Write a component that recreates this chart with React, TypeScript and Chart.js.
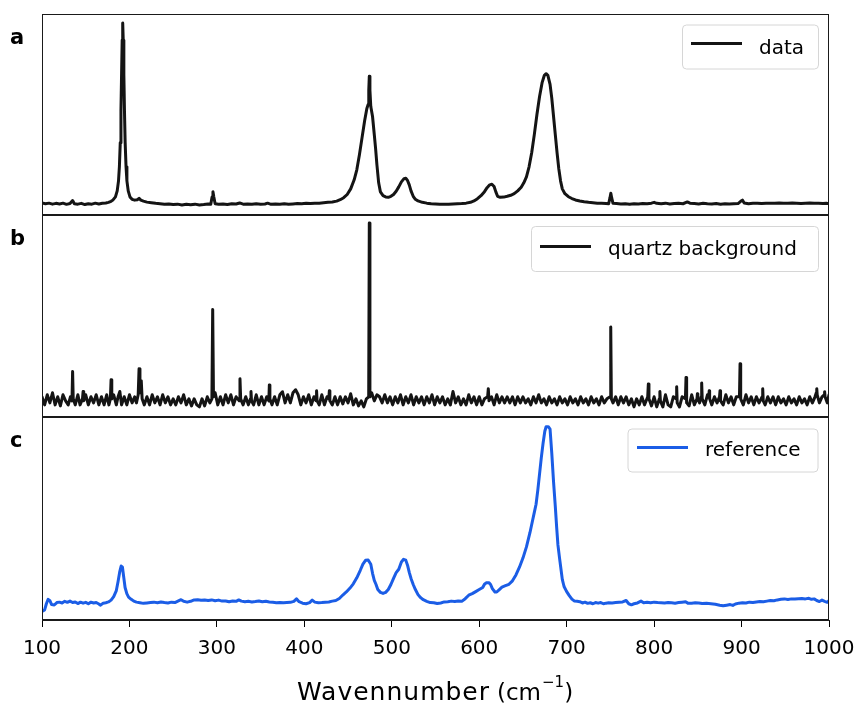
import React, { useEffect, useRef } from 'react';
import { Chart, registerables } from 'chart.js';

Chart.register(...registerables);

const X_MIN = 100;
const X_MAX = 1000;
const xTickValues = [100, 200, 300, 400, 500, 600, 700, 800, 900, 1000];
const panelLetters = ['a', 'b', 'c'];
const legendLabels = ['data', 'quartz background', 'reference'];
const xTitleMain = 'Wavennumber';
const xTitleUnit = '(cm';
const xTitleExp = '−1';
const xTitleClose = ')';

// [wavenumber, intensity (arb., 0-100 per panel)]
const dataSpectrum: [number, number][] = [
  [100, 6.0], [104, 5.6], [108, 5.9], [112, 5.4], [116, 5.8], [120, 5.5], [124, 5.9], [128, 5.3], [132, 5.7], [135, 7.2], [137, 5.6],
  [141, 5.4], [145, 5.8], [149, 5.2], [153, 5.6], [157, 5.4], [161, 5.9], [165, 5.5], [169, 5.8], [173, 6.0], [176, 6.3], [179, 6.8],
  [181, 7.4], [184, 9], [186, 12], [187.5, 17], [188.5, 24], [189.5, 36], [190.3, 52], [191, 70], [191.7, 87], [192.3, 95.5],
  [192.9, 87], [193.6, 70], [194.3, 52], [195.1, 36], [196.1, 24], [197.1, 17], [198.6, 12], [200.6, 9], [203, 7.8], [206, 7.4],
  [209, 7.6], [211, 8.3], [213, 7.4], [216, 6.9], [220, 6.4], [225, 6.1], [230, 5.8], [235, 5.6], [240, 5.3], [245, 5.5], [250, 5.2],
  [255, 5.4], [260, 5.0], [265, 5.3], [270, 5.1], [275, 5.4], [280, 5.0], [285, 5.2], [290, 5.5], [293, 5.3], [294.5, 9], [295.5, 11.6],
  [296.5, 9], [298, 5.6], [302, 5.4], [307, 5.5], [312, 5.2], [317, 5.6], [322, 5.5], [326, 6.0], [330, 5.4], [335, 5.5], [340, 5.3],
  [345, 5.6], [350, 5.4], [355, 5.5], [358, 5.9], [362, 5.3], [367, 5.5], [372, 5.4], [377, 5.6], [382, 5.3], [387, 5.5], [392, 5.7],
  [397, 5.6], [402, 5.8], [407, 5.7], [412, 5.9], [417, 5.9], [422, 6.1], [427, 6.3], [432, 6.5], [437, 6.9], [441, 7.6], [445, 8.6],
  [449, 10.2], [453, 13], [457, 17.5], [460, 22.5], [463, 30], [466, 38.5], [469, 47], [471.5, 53], [473, 55], [473.7, 62],
  [474.3, 69], [475, 62], [476, 54], [478, 49], [480, 40], [481.5, 33], [483, 25], [485, 16], [487, 11.5], [490, 9.6], [493, 9.0],
  [496, 8.8], [499, 9.3], [502, 10.2], [505, 11.8], [508, 14], [511, 16.5], [514, 18.1], [516, 18.3], [518, 17.2], [520, 15],
  [522, 12], [524.5, 9.3], [527, 7.8], [530, 7.0], [535, 6.3], [540, 5.9], [545, 5.6], [550, 5.5], [555, 5.3], [560, 5.4], [565, 5.3],
  [570, 5.5], [575, 5.6], [580, 5.7], [585, 5.9], [590, 6.3], [594, 7.0], [598, 8.1], [602, 9.6], [606, 11.6], [609, 13.6],
  [612, 15.0], [614.5, 15.3], [617, 14.2], [619, 11.5], [621, 9.3], [624, 8.8], [628, 8.9], [632, 9.3], [636, 9.8], [640, 10.6],
  [644, 12], [648, 13.8], [651, 16], [654, 19], [657, 24], [660, 31], [663, 40], [666, 50], [669, 59], [672, 66], [674.5, 69.5],
  [676.5, 70.3], [678.5, 69.5], [681, 65], [683, 58], [685, 49], [687, 40], [689, 31], [691, 23], [693, 17], [695, 13], [698, 10.6],
  [702, 9.1], [706, 8.2], [710, 7.5], [715, 7.0], [720, 6.6], [725, 6.3], [730, 6.1], [735, 5.9], [740, 5.8], [745, 5.7], [748, 5.6],
  [749.5, 8.5], [750.5, 10.8], [751.5, 8.5], [753, 5.8], [757, 5.7], [762, 5.5], [767, 5.6], [772, 5.4], [777, 5.6], [782, 5.5],
  [787, 5.7], [792, 5.6], [797, 5.9], [800, 6.3], [803, 5.8], [808, 5.6], [813, 5.9], [818, 5.5], [823, 5.7], [828, 5.8], [833, 5.6],
  [838, 6.5], [841, 5.9], [846, 5.7], [851, 5.5], [856, 5.8], [861, 5.6], [866, 5.5], [871, 5.7], [876, 5.4], [881, 5.6], [886, 5.5],
  [891, 5.6], [896, 5.7], [899, 6.8], [901, 7.4], [903, 6.0], [908, 5.6], [913, 5.8], [918, 5.9], [923, 5.7], [928, 5.8], [933, 5.9],
  [938, 5.8], [943, 6.0], [948, 5.9], [953, 5.8], [958, 6.0], [963, 5.9], [968, 5.7], [973, 5.9], [978, 6.0], [983, 5.8], [988, 5.9],
  [993, 5.7], [997, 5.8], [1000, 5.6],
];

const quartzSpectrum: [number, number][] = [
  [100, 10], [103, 6], [106, 11], [109, 7], [112, 12], [115, 6], [118, 10], [121, 5.5], [124, 11], [127, 8], [130, 6], [132.5, 10],
  [134.3, 8], [135, 22.5], [135.7, 9], [138, 6], [141, 11], [143.5, 6], [146.3, 9], [147, 12.6], [147.7, 8], [150, 11], [153, 6],
  [156, 10], [159, 7], [162, 11], [165, 6], [168, 10], [171, 6], [174, 11], [176.5, 6], [178.2, 9], [179, 18.4], [179.8, 9], [182, 11],
  [185, 6], [187, 10], [189, 12.6], [191, 6], [194, 10], [197, 6], [200, 11], [203, 7], [206, 10], [208, 7], [210, 11], [211, 23.9],
  [212, 12], [213.5, 18], [214.5, 9], [217, 6], [220, 10], [223, 6], [226, 11], [229, 7], [232, 10], [235, 6], [238, 11], [241, 7],
  [244, 10], [247, 6], [250, 9], [253, 6], [256, 10], [259, 7], [262, 11], [265, 6], [268, 9], [271, 5.5], [274, 9], [277, 6], [280, 5],
  [283, 9], [286, 5.5], [289, 10], [292, 7], [294.3, 9], [295.2, 53.2], [296.1, 10], [298, 12], [301, 6], [304, 10], [307, 6],
  [310, 11], [313, 7], [316, 11], [319, 6], [322, 10], [325.6, 8], [326.4, 18.9], [327.2, 9], [330, 6], [333, 10], [336, 6],
  [338.4, 9], [339, 12.6], [339.6, 8], [342, 6], [345, 11], [348, 6], [351, 10], [354, 6], [357, 10], [359.4, 8], [360, 15.9],
  [360.6, 9], [363, 6], [366, 10], [369, 6], [372, 11], [375, 12.5], [378, 7], [381, 11], [384, 7], [387, 12], [390, 13.5], [393, 11],
  [396, 6], [399, 10], [402, 7], [405, 11], [408, 6], [411, 10], [413.4, 8], [414, 13], [414.6, 8], [417, 6], [420, 11], [423, 6],
  [426, 10], [428, 9], [428.6, 13], [429.2, 8], [432, 6], [435, 10], [438, 6], [441, 10], [444, 6.5], [447, 10], [450, 7], [453, 11.5],
  [456, 6], [459, 9], [462, 5.5], [465, 8], [468, 5], [471, 9], [473.6, 10], [474.3, 96], [475, 10], [477, 12], [480, 8], [483, 11],
  [486, 10], [489, 7], [492, 11], [495, 7], [498, 10], [501, 6], [504, 10], [507, 7], [510, 11], [513, 6], [516, 10], [519, 7], [522, 11],
  [525, 6], [528, 10], [531, 7], [534, 10], [537, 6], [540, 10], [543, 7], [546, 11], [549, 6], [552, 10], [555, 7], [558, 10], [561, 6],
  [564, 9], [567, 6], [570, 12.6], [573, 7], [576, 10], [579, 6], [582, 9], [585, 6], [588, 11], [591, 7], [594, 10], [597, 6], [600, 10],
  [603, 6], [606, 9], [609.6, 10], [610.4, 14], [611.2, 8], [614, 10], [617, 6], [620, 11], [623, 7], [626, 10], [629, 7], [632, 10],
  [635, 7], [638, 10], [641, 6], [644, 10], [647, 7], [650, 10], [653, 7], [656, 9], [659, 6], [662, 10], [665, 7], [668, 11], [671, 7],
  [674, 9], [677, 6], [680, 10], [683, 7], [686, 9], [689, 6], [692, 10], [695, 7], [698, 9], [701, 6], [704, 10], [707, 7], [710, 9],
  [713, 6], [716, 10], [719, 7], [722, 9], [725, 6], [728, 10], [731, 7], [734, 9], [737, 6], [740, 10], [743, 7], [746, 9], [749.7, 10],
  [750.4, 44.6], [751.1, 9], [753, 7], [756, 10], [759, 6], [762, 10], [765, 7], [768, 10], [771, 6], [774, 9], [777, 5], [780, 9],
  [783, 6], [786, 10], [789, 6], [792.7, 10], [793.4, 16.3], [794.1, 9], [797, 5.5], [800, 10], [803, 5], [806, 9], [806.6, 12.6],
  [807.2, 8], [810, 5], [813, 11], [816, 6], [819, 5], [822, 10], [825.2, 9], [825.8, 15], [826.4, 7], [829, 5], [832, 10], [835.8, 9],
  [836.5, 19.6], [837.2, 7], [840, 5.5], [843, 11], [846, 6], [849, 9], [849.5, 11.5], [850, 9], [852, 7], [853.8, 10], [854.4, 16.8],
  [855, 9], [858, 6], [861, 11], [862.5, 10], [863, 13], [863.5, 9], [866, 6], [869, 10], [872, 7], [874.8, 10], [875.4, 13], [876, 8],
  [879, 6], [882, 11], [885, 7], [888, 10], [891, 6], [894, 10], [897.6, 10], [898.3, 26.4], [899, 9], [902, 6], [905, 11], [908, 7],
  [911, 10], [914, 6], [917, 10], [920, 7], [923.6, 10], [924.2, 14], [924.8, 8], [927, 6], [930, 10], [933, 7], [936, 10], [939, 6],
  [942, 10], [945, 7], [948, 9], [951, 6], [954, 10], [957, 7], [960, 9], [963, 6], [966, 10], [969, 7], [972, 9], [975, 6], [978, 10],
  [981, 7], [984, 10], [985.5, 12], [986, 14], [986.5, 11], [989, 7], [992, 10], [994.5, 11], [995, 12.5], [995.5, 10], [998, 7],
  [1000, 11],
];

const referenceSpectrum: [number, number][] = [
  [101, 4.5], [103, 5], [105, 8], [107, 10.2], [109, 9.5], [111, 7.6], [114, 7.4], [117, 8.6], [120, 8.8], [123, 8.4], [126, 9.2],
  [129, 8.7], [132, 9.3], [135, 8.6], [138, 8.9], [141, 8.1], [144, 8.8], [147, 8.3], [150, 8.7], [153, 8.0], [156, 8.8], [159, 8.4],
  [162, 8.6], [165, 7.9], [167, 7.3], [170, 8.3], [173, 8.5], [176, 8.9], [179, 9.8], [182, 11.5], [185, 14.5], [187, 19], [189, 24],
  [190.5, 26.6], [192, 26], [193.5, 21], [195, 16], [197, 13], [199, 11.3], [202, 10.2], [205, 9.3], [208, 8.8], [212, 8.5],
  [216, 8.2], [220, 8.4], [224, 8.6], [228, 8.8], [232, 8.5], [236, 8.9], [240, 8.6], [244, 8.4], [248, 8.8], [252, 8.6], [256, 9.4],
  [259, 10.0], [262, 9.2], [266, 8.8], [270, 9.2], [274, 9.9], [278, 10.0], [282, 9.7], [286, 9.9], [290, 9.6], [294, 9.9], [298, 9.5],
  [302, 9.8], [306, 9.3], [310, 9.4], [314, 9.0], [318, 9.4], [322, 9.2], [325, 9.9], [328, 9.3], [332, 9.0], [336, 9.2], [340, 8.9],
  [344, 9.1], [348, 9.4], [352, 9.0], [356, 9.2], [360, 8.9], [364, 8.7], [368, 8.5], [372, 8.6], [376, 8.5], [380, 8.6], [384, 8.7],
  [388, 9.2], [391, 10.4], [394, 9.0], [398, 8.3], [402, 8.0], [406, 8.6], [409, 9.8], [412, 8.8], [416, 8.5], [420, 8.6], [424, 8.8],
  [428, 8.9], [432, 9.3], [436, 9.6], [440, 10.6], [444, 12.3], [448, 13.8], [452, 15.6], [456, 17.8], [460, 20.8], [464, 24.5],
  [467, 27.5], [470, 29.4], [473, 29.6], [476, 27.5], [478, 23], [480, 19.5], [482, 17.5], [484, 15], [487, 13.6], [490, 13.1],
  [493, 13.6], [496, 15], [499, 17.5], [502, 20.5], [505, 23.3], [508, 25], [511, 28.6], [513.5, 29.9], [516, 29.5], [518, 27],
  [520, 23.5], [522, 20.5], [524.5, 17.5], [527, 15], [530, 12.5], [533, 11], [536, 10], [540, 9.2], [544, 8.6], [548, 8.5],
  [552, 8.1], [556, 8.4], [560, 8.9], [564, 9.0], [568, 9.3], [572, 9.1], [576, 9.4], [580, 9.2], [584, 10.5], [588, 12.2], [592, 13],
  [596, 14], [600, 15], [604, 16], [606, 17.6], [608, 18.3], [611, 18.4], [613, 17.5], [615, 15.5], [618, 13.8], [620, 13.8], [623, 15],
  [626, 16.2], [630, 16.9], [634, 17.6], [638, 19.3], [642, 22.2], [646, 26], [650, 30.5], [654, 36], [658, 43], [661, 49], [663, 53],
  [665, 57], [667, 64], [669, 72], [671, 80], [673, 87], [675, 93], [676.5, 95.2], [679, 95.2], [681, 94], [683, 82], [685, 68],
  [687, 56], [688.5, 46], [690, 37], [692, 30], [693.5, 25], [695, 20], [697, 16.5], [700, 14], [703, 12], [706, 10.3], [709, 9.3],
  [712, 9.2], [715, 9.0], [718, 8.4], [721, 8.8], [724, 8.2], [727, 8.5], [730, 8.0], [733, 8.6], [736, 8.3], [739, 8.6], [742, 8.0],
  [745, 8.3], [748, 8.5], [752, 8.4], [756, 8.6], [760, 8.8], [764, 8.9], [768, 9.6], [771, 8.0], [774, 7.5], [777, 8.0], [781, 8.4],
  [785, 9.3], [788, 8.5], [792, 8.7], [796, 8.5], [800, 8.8], [804, 8.6], [808, 8.5], [812, 8.4], [816, 8.6], [820, 8.5], [824, 8.3],
  [828, 8.6], [832, 8.8], [836, 9.0], [839, 8.2], [843, 8.3], [847, 8.5], [851, 8.4], [855, 8.1], [860, 8.2], [865, 8.0], [870, 7.8],
  [875, 7.3], [879, 7.0], [883, 7.3], [887, 7.6], [890, 7.2], [893, 7.9], [897, 8.3], [901, 8.5], [905, 8.4], [909, 8.8], [913, 8.6],
  [917, 8.9], [921, 9.1], [925, 9.0], [929, 9.3], [933, 9.6], [937, 9.5], [941, 9.9], [945, 10.2], [949, 10.4], [953, 10.1],
  [957, 10.4], [961, 10.3], [965, 10.5], [969, 10.6], [973, 10.4], [977, 10.7], [980, 10.2], [983, 10.4], [986, 9.6], [989, 9.1],
  [992, 9.8], [995, 9.2], [998, 8.7], [1000, 9.5],
];

const FONT = '"DejaVu Sans", sans-serif';

type Panel = {
  top: number;
  height: number;
  padTop: number;
  padBottom: number;
  series: [number, number][];
  color: string;
  letter: string;
  letterY: number;
  legendText: string;
  legendBox: [number, number, number, number];
  legendLineY: number;
  legendLineX: [number, number];
  legendTextX: number;
  legendTextY: number;
  showX: boolean;
};

const panels: Panel[] = [
  {
    top: 0, height: 230, padTop: 14, padBottom: 15,
    series: dataSpectrum, color: '#141414', letter: panelLetters[0], letterY: 44,
    legendText: legendLabels[0],
    legendBox: [682, 24.5, 136, 44], legendLineY: 43.5, legendLineX: [691, 742], legendTextX: 759, legendTextY: 53.5,
    showX: false,
  },
  {
    top: 200, height: 230, padTop: 15, padBottom: 13,
    series: quartzSpectrum, color: '#141414', letter: panelLetters[1], letterY: 45,
    legendText: legendLabels[1],
    legendBox: [531, 26, 287, 45], legendLineY: 46.5, legendLineX: [540, 591], legendTextX: 608, legendTextY: 55,
    showX: false,
  },
  {
    top: 400, height: 307, padTop: 17, padBottom: 47,
    series: referenceSpectrum, color: '#1b5de6', letter: panelLetters[2], letterY: 46.5,
    legendText: legendLabels[2],
    legendBox: [627.5, 28.5, 190, 43], legendLineY: 47.5, legendLineX: [637, 688], legendTextX: 705, legendTextY: 55.5,
    showX: true,
  },
];

function roundRectPath(ctx: CanvasRenderingContext2D, x: number, y: number, w: number, h: number, r: number) {
  ctx.beginPath();
  ctx.moveTo(x + r, y);
  ctx.lineTo(x + w - r, y);
  ctx.arcTo(x + w, y, x + w, y + r, r);
  ctx.lineTo(x + w, y + h - r);
  ctx.arcTo(x + w, y + h, x + w - r, y + h, r);
  ctx.lineTo(x + r, y + h);
  ctx.arcTo(x, y + h, x, y + h - r, r);
  ctx.lineTo(x, y + r);
  ctx.arcTo(x, y, x + r, y, r);
  ctx.closePath();
}

const decorPlugin = {
  id: 'decor',
  afterDraw(chart: any, _args: any, opts: any) {
    const p: Panel = opts.panel;
    const ctx: CanvasRenderingContext2D = chart.ctx;
    const ca = chart.chartArea;
    ctx.save();
    ctx.strokeStyle = '#1a1a1a';
    ctx.lineWidth = 1;
    ctx.strokeRect(Math.round(ca.left) + 0.5, Math.round(ca.top) + 0.5, Math.round(ca.right - ca.left) - 1, Math.round(ca.bottom - ca.top) - 1);
    ctx.fillStyle = '#000';
    ctx.font = `bold 21px ${FONT}`;
    ctx.textAlign = 'left';
    ctx.textBaseline = 'alphabetic';
    ctx.fillText(p.letter, 10, p.letterY);
    const [bx, by, bw, bh] = p.legendBox;
    roundRectPath(ctx, bx + 0.5, by + 0.5, bw, bh, 4);
    ctx.fillStyle = 'rgba(255,255,255,0.8)';
    ctx.fill();
    ctx.strokeStyle = '#d6d6d6';
    ctx.lineWidth = 1;
    ctx.stroke();
    ctx.beginPath();
    ctx.moveTo(p.legendLineX[0], p.legendLineY);
    ctx.lineTo(p.legendLineX[1], p.legendLineY);
    ctx.strokeStyle = p.color;
    ctx.lineWidth = 3;
    ctx.lineCap = 'butt';
    ctx.stroke();
    ctx.fillStyle = '#000';
    ctx.font = `20px ${FONT}`;
    ctx.fillText(p.legendText, p.legendTextX, p.legendTextY);
    if (p.showX) {
      const base = 300;
      ctx.font = `25px ${FONT}`;
      (ctx as any).letterSpacing = '1px';
      ctx.fillText(xTitleMain, 297, base);
      (ctx as any).letterSpacing = '0px';
      const ux = 497;
      ctx.font = `23px ${FONT}`;
      ctx.fillText(xTitleUnit, ux, base);
      const unitW = ctx.measureText(xTitleUnit).width;
      ctx.font = `15px ${FONT}`;
      ctx.fillText(xTitleExp, ux + unitW + 1, base - 13);
      const expW = ctx.measureText(xTitleExp).width;
      ctx.font = `23px ${FONT}`;
      ctx.fillText(xTitleClose, ux + unitW + expW + 1, base);
    }
    ctx.restore();
  },
};

function PanelChart({ panel }: { panel: Panel }) {
  const ref = useRef<HTMLCanvasElement | null>(null);
  useEffect(() => {
    if (!ref.current) return;
    const xScale: any = {
      type: 'linear',
      min: X_MIN,
      max: X_MAX,
      display: panel.showX,
      afterBuildTicks: (s: any) => {
        s.ticks = xTickValues.map((v) => ({ value: v }));
      },
      ticks: {
        color: '#000',
        font: { family: FONT, size: 20 },
        padding: 10,
        maxRotation: 0,
        autoSkip: false,
        callback: (v: any) => String(v),
      },
      grid: { drawOnChartArea: false, tickLength: 7, color: '#000', tickWidth: 1 },
      border: { color: '#1a1a1a' },
    };
    if (panel.showX) {
      xScale.afterFit = (s: any) => {
        s.height = 40;
        s.paddingLeft = 0;
        s.paddingRight = 0;
      };
    }
    const chart = new Chart(ref.current, {
      type: 'line',
      data: {
        datasets: [
          {
            data: panel.series.map(([x, y]) => ({ x, y })),
            borderColor: panel.color,
            borderWidth: 3,
            pointRadius: 0,
            tension: 0,
            fill: false,
            borderJoinStyle: 'round',
            borderCapStyle: 'round',
          },
        ],
      },
      options: {
        responsive: false,
        animation: false,
        events: [],
        layout: { padding: { top: panel.padTop, bottom: panel.padBottom, left: 42, right: 28 } },
        plugins: {
          legend: { display: false },
          tooltip: { enabled: false },
          decor: { panel },
        } as any,
        scales: {
          x: xScale,
          y: { min: 0, max: 100, display: false },
        },
      },
      plugins: [decorPlugin],
    } as any);
    return () => chart.destroy();
  }, [panel]);
  return (
    <canvas
      ref={ref}
      width={857}
      height={panel.height}
      style={{ position: 'absolute', left: 0, top: panel.top, width: 857, height: panel.height }}
    />
  );
}

export default function App() {
  return (
    <div style={{ position: 'absolute', left: 0, top: 0, width: 857, height: 707, background: '#fff' }}>
      {panels.map((p, i) => (
        <PanelChart key={i} panel={p} />
      ))}
    </div>
  );
}
